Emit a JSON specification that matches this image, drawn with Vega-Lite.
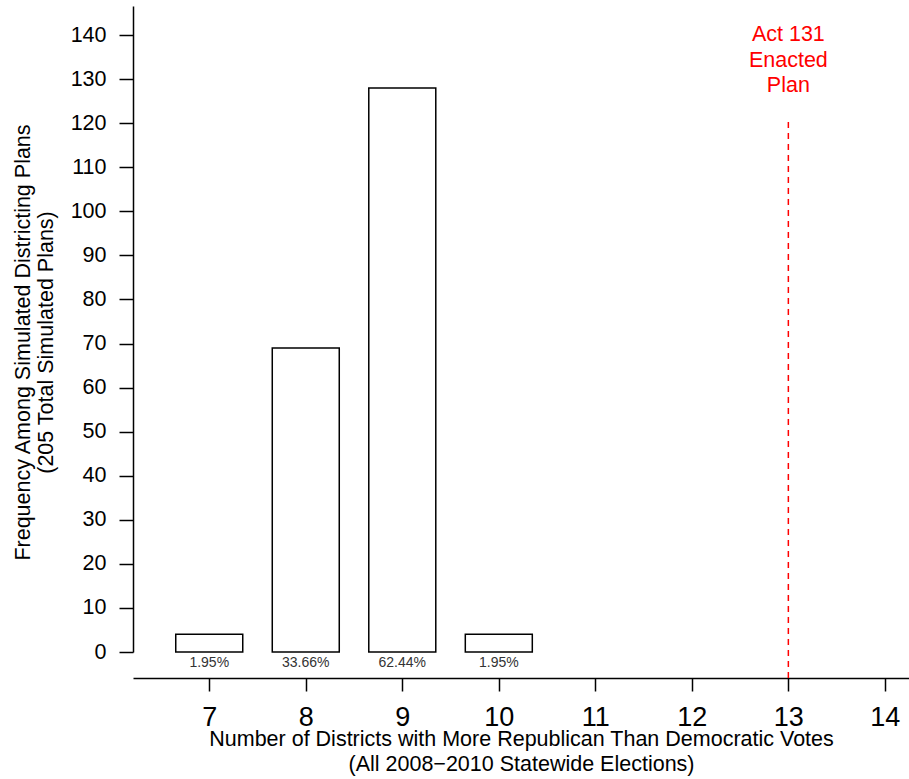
{
  "$schema": "https://vega.github.io/schema/vega-lite/v6.json",
  "width": 776,
  "height": 646,
  "autosize": {"type": "none"},
  "padding": {"left": 133, "top": 6, "right": 0, "bottom": 127},
  "background": "white",
  "config": {
    "view": {"stroke": null},
    "font": "Liberation Sans",
    "axis": {"grid": false, "domainColor": "black", "tickColor": "black", "labelColor": "black", "titleColor": "black", "domainWidth": 1.5, "tickWidth": 1.5, "titleFontWeight": "normal", "labelFont": "Liberation Sans", "titleFont": "Liberation Sans"}
  },
  "datasets": {
    "bars": [
      {"districts": 7, "count": 4, "pct": "1.95%"},
      {"districts": 8, "count": 69, "pct": "33.66%"},
      {"districts": 9, "count": 128, "pct": "62.44%"},
      {"districts": 10, "count": 4, "pct": "1.95%"}
    ],
    "enacted": [
      {"districts": 13, "ylo": -5.9, "yhi": 120.5, "ytext": 138.65, "label": "Act 131\nEnacted\nPlan"}
    ]
  },
  "layer": [
    {
      "data": {"name": "bars"},
      "mark": {"type": "bar", "size": 67, "fill": "white", "stroke": "black", "strokeWidth": 1.5},
      "encoding": {
        "x": {
          "field": "districts", "type": "quantitative",
          "scale": {"domain": [6.21, 14.25], "nice": false, "zero": false, "padding": 0},
          "axis": {
            "values": [7, 8, 9, 10, 11, 12, 13, 14],
            "format": "d",
            "offset": 26,
            "tickSize": 13,
            "labelFontSize": 27,
            "labelPadding": 13,
            "labelFlush": false,
            "labelOverlap": false,
            "title": ["Number of Districts with More Republican Than Democratic Votes", "(All 2008−2010 Statewide Elections)"],
            "titleFontSize": 21.5,
            "titleLineHeight": 25,
            "titleBaseline": "alphabetic",
            "titleY": 67
          }
        },
        "y": {
          "field": "count", "type": "quantitative",
          "scale": {"domain": [0, 146.6], "nice": false},
          "axis": {
            "values": [0, 10, 20, 30, 40, 50, 60, 70, 80, 90, 100, 110, 120, 130, 140],
            "tickSize": 14,
            "labelFontSize": 21.5,
            "labelPadding": 13,
            "labelFlush": false,
            "labelOverlap": false,
            "title": ["Frequency Among Simulated Districting Plans", "(205 Total Simulated Plans)"],
            "titleFontSize": 21.5,
            "titleLineHeight": 23,
            "titleBaseline": "alphabetic",
            "titleAngle": -90,
            "titleAlign": "center",
            "titleX": -104,
            "titleY": 336
          }
        }
      }
    },
    {
      "data": {"name": "bars"},
      "mark": {"type": "text", "fontSize": 14, "baseline": "alphabetic", "dy": 15, "color": "#333333", "font": "Liberation Sans"},
      "encoding": {
        "x": {"field": "districts", "type": "quantitative"},
        "y": {"datum": 0, "type": "quantitative"},
        "text": {"field": "pct"}
      }
    },
    {
      "data": {"name": "enacted"},
      "mark": {"type": "rule", "color": "red", "strokeWidth": 1.5, "strokeDash": [6, 5]},
      "encoding": {
        "x": {"field": "districts", "type": "quantitative"},
        "y": {"field": "ylo", "type": "quantitative"},
        "y2": {"field": "yhi"}
      }
    },
    {
      "data": {"name": "enacted"},
      "mark": {"type": "text", "fontSize": 21.5, "baseline": "alphabetic", "align": "center", "lineHeight": 25.5, "color": "red", "font": "Liberation Sans", "lineBreak": "\n"},
      "encoding": {
        "x": {"field": "districts", "type": "quantitative"},
        "y": {"field": "ytext", "type": "quantitative"},
        "text": {"field": "label"}
      }
    }
  ]
}
